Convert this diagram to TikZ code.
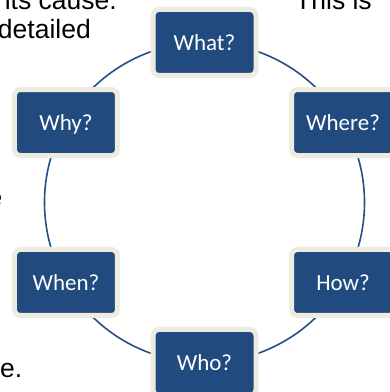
\documentclass[tikz,border=0pt]{standalone}
\usepackage{fontspec}
\setmainfont{Liberation Sans}
\newfontfamily\qfont{Carlito}
\definecolor{qblue}{HTML}{214A7E}
\definecolor{qrim}{HTML}{EEECE1}
\definecolor{qline}{HTML}{244F84}
\tikzset{
  qbox/.style = {rectangle, rounded corners=6pt, fill=qblue, draw=qrim, line width=5pt,
                 minimum width=103pt, minimum height=66pt, text=white,
                 text height=16pt, text depth=0pt, font=\qfont\fontsize{23}{27}\selectfont},
  ring/.style = {circle, draw=qline, line width=1.6pt, minimum size=320pt, inner sep=0pt, outer sep=0pt},
  bodytext/.style = {inner sep=0pt, font=\fontsize{26.5}{30}\selectfont},
}

\begin{document}
\begin{tikzpicture}[x=1pt,y=1pt]
    \useasboundingbox (0,0) rectangle (390,392);
    \clip (0,0) rectangle (390,392);

    % text of the page behind the picture
    \node [bodytext, anchor=base east] (cause) at (117,382.5) {its cause.};
    \node [bodytext, anchor=base west] (thisis) at (295,382.5) {This is};
    \node [bodytext, anchor=base east] (detailed) at (91,353.7) {detailed};
    \node [bodytext, anchor=base east] (mide) at (2.5,185) {e};
    \node [bodytext, anchor=base west] (ende) at (0,14) {e.};

    \node [ring] (ring) at (204.5,189.5) {};

    \node [qbox] (what) at (ring.90) {What?};
    \node [qbox] (where) at (ring.30) {Where?};
    \node [qbox] (how) at (ring.-30) {How?};
    \node [qbox] (who) at (ring.-90) {Who?};
    \node [qbox] (when) at (ring.-150) {When?};
    \node [qbox] (why) at (ring.150) {Why?};
\end{tikzpicture}
\end{document}
